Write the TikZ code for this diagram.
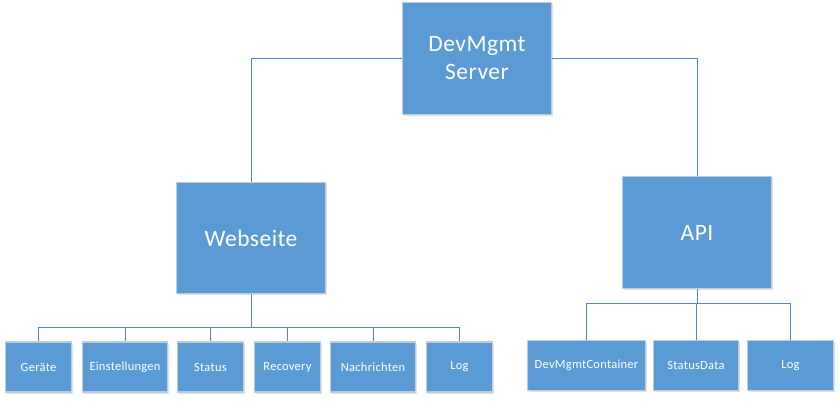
\documentclass[tikz,border=0pt]{standalone}
\usepackage{fontspec}
\setmainfont{Carlito}[LetterSpace=2]
\usetikzlibrary{shadows}
\definecolor{boxfill}{HTML}{5B9BD5}
\definecolor{boxborder}{HTML}{BFCCDA}
\definecolor{linkcol}{HTML}{5089C4}
\tikzset{
  box/.style={draw=boxborder, line width=1.2pt, fill=boxfill, text=white, inner sep=0pt, align=center,
    drop shadow={shadow xshift=1pt, shadow yshift=-1.5pt, fill=black, opacity=0.12}},
  bigbox/.style={box, minimum width=149pt, minimum height=112pt, font=\fontsize{23.5}{28}\selectfont},
  smallbox/.style={box, minimum height=50pt, font=\fontsize{12.5}{14}\selectfont},
  link/.style={draw=linkcol, line width=0.9pt},
}
\begin{document}
\begin{tikzpicture}[x=1pt,y=-1pt]
\useasboundingbox (0,0) rectangle (840,400);
\node[bigbox, minimum height=112pt] (srv) at (477,58.5) {DevMgmt\\Server};
\node[bigbox, minimum height=111pt] (web) at (251,238) {Webseite};
\node[bigbox, minimum height=112pt] (api) at (697,232.5) {API};
% left children
\node[smallbox, minimum width=66pt] (ger) at (38.5,367) {Geräte};
\node[smallbox, minimum width=85pt] (ein) at (125,367) {Einstellungen};
\node[smallbox, minimum width=66pt] (sta) at (210.5,367) {Status};
\node[smallbox, minimum width=66pt] (rec) at (287.5,367) {Recovery};
\node[smallbox, minimum width=85pt] (nac) at (373,367) {Nachrichten};
\node[smallbox, minimum width=66pt] (logl) at (459.5,367) {Log};
% right children
\node[smallbox, minimum width=118pt] (dmc) at (586.5,365.5) {DevMgmtContainer};
\node[smallbox, minimum width=85pt] (sd) at (696,365.5) {StatusData};
\node[smallbox, minimum width=86pt] (logr) at (790.5,365.5) {Log};
\coordinate (lbus) at (0,327);
\coordinate (rbus) at (0,303);
% connectors
\draw[link] (srv.west) -| (web.north);
\draw[link] (srv.east) -| (api.north);
\foreach \c in {ger,ein,sta,rec,nac,logl}
  \draw[link] (web.south) -- (web.south |- lbus) -| (\c.north);
\foreach \c in {dmc,sd,logr}
  \draw[link] (api.south) -- (api.south |- rbus) -| (\c.north);
\end{tikzpicture}
\end{document}
